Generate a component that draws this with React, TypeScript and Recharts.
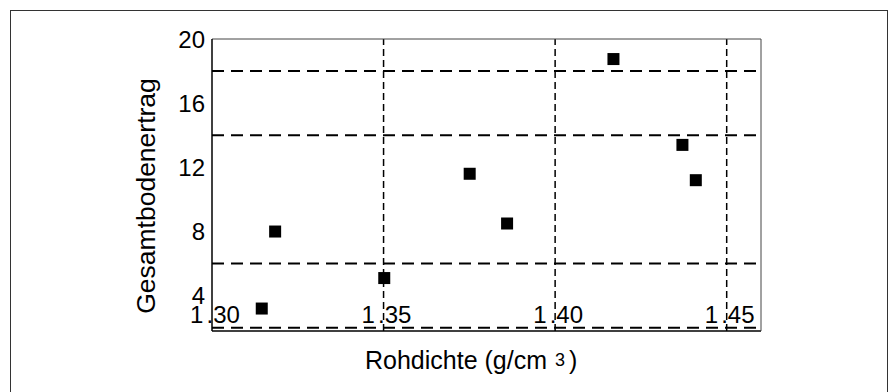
import { ReferenceLine, Scatter, ScatterChart, XAxis, YAxis } from "recharts";

// Rohdichte (g/cm³) und Gesamtbodenertrag
const rohdichte = [1.3145, 1.3184, 1.3502, 1.3751, 1.386, 1.417, 1.4371, 1.441];
const ertrag = [3.2, 8.0, 5.1, 11.6, 8.5, 18.75, 13.4, 11.2];

const xTicks = [1.3, 1.35, 1.4, 1.45];
const yTicks = [4, 8, 12, 16, 20];
const xMinorTicks = [1.31, 1.32, 1.33, 1.34, 1.35, 1.36, 1.37, 1.38, 1.39, 1.4, 1.41, 1.42, 1.43, 1.44, 1.45];
const yMinorTicks = [2, 3, 4, 5, 6, 7, 8, 9, 10, 11, 12, 13, 14, 15, 16, 17, 18, 19];
const gridX = [1.35, 1.4, 1.45];
const gridY = [2, 6, 14, 18];

const xDomain = [1.3, 1.46];
const yDomain = [1.8, 20];

const points = rohdichte.map((x, i) => ({ x, y: ertrag[i] }));

const FONT = '"Liberation Sans", Arial, sans-serif';

const Square = (props: any) => (
  <rect x={props.cx - 6} y={props.cy - 6} width={12} height={12} fill="#000" />
);

const XTick = ({ x, y, payload }: any) => {
  const [a, b] = Number(payload.value).toFixed(2).split(".");
  return (
    <text y={y - 8} fontSize={24} fontFamily={FONT} fill="#000">
      <tspan x={x - 22}>{a}</tspan>
      <tspan x={x - 5.5}>.{b}</tspan>
    </text>
  );
};

const XTitle = ({ viewBox }: any) => {
  const x = viewBox.x + 153;
  const y = viewBox.y + 38;
  return (
    <text x={x} y={y} fontSize={25} fontFamily={FONT} fill="#000">
      Rohdichte (g/cm
      <tspan dx={8} dy={-3} fontSize={18}>3</tspan>
      <tspan dx={4} dy={3}>)</tspan>
    </text>
  );
};

const YTitle = ({ viewBox }: any) => {
  const cx = viewBox.x + viewBox.width - 57.5;
  const cy = viewBox.y + viewBox.height / 2 + 11;
  return (
    <text
      x={cx}
      y={cy}
      transform={`rotate(-90 ${cx} ${cy})`}
      textAnchor="middle"
      fontSize={26.5}
      fontFamily={FONT}
      fill="#000"
    >
      Gesamtbodenertrag
    </text>
  );
};

export default function App() {
  return (
    <div style={{ position: "relative", width: 888, height: 392, overflow: "hidden", background: "#fff" }}>
      <style>{`body{margin:0}`}</style>
      <div
        style={{
          position: "absolute",
          left: 10,
          top: 10,
          width: 876,
          height: 400,
          borderTop: "1.5px solid #333",
          borderLeft: "1.5px solid #333",
          borderRight: "1.5px solid #333",
        }}
      />
      <div style={{ position: "absolute", left: 0, top: 0 }}>
        <ScatterChart width={888} height={392} margin={{ top: 39, right: 127, bottom: 0, left: 0 }}>
          <XAxis
            type="number"
            dataKey="x"
            domain={xDomain}
            allowDataOverflow
            ticks={xTicks}
            interval={0}
            height={61}
            tickSize={0}
            tickMargin={0}
            tickLine={false}
            tick={<XTick />}
            axisLine={{ stroke: "#000", strokeWidth: 1.5 }}
            label={<XTitle />}
          />
          <XAxis
            xAxisId="t"
            orientation="top"
            type="number"
            dataKey="x"
            domain={xDomain}
            allowDataOverflow
            ticks={xMinorTicks}
            interval={0}
            height={1}
            mirror
            tick={false}
            tickSize={3}
            tickLine={{ stroke: "#444" }}
            axisLine={{ stroke: "#444" }}
          />
          <YAxis
            type="number"
            dataKey="y"
            domain={yDomain}
            allowDataOverflow
            ticks={yTicks}
            interval={0}
            width={212}
            tickSize={0}
            tickMargin={7}
            tickLine={false}
            tick={{ fontSize: 24, fontFamily: FONT, fill: "#000" }}
            axisLine={{ stroke: "#000", strokeWidth: 1.5 }}
            label={<YTitle />}
          />
          <YAxis
            yAxisId="r"
            orientation="right"
            type="number"
            dataKey="y"
            domain={yDomain}
            allowDataOverflow
            ticks={yMinorTicks}
            interval={0}
            width={1}
            mirror
            tick={false}
            tickSize={3}
            tickLine={{ stroke: "#444" }}
            axisLine={{ stroke: "#444" }}
          />
          {gridX.map((v) => (
            <ReferenceLine key={`gx${v}`} x={v} stroke="#000" strokeWidth={1.5} strokeDasharray="7 4" />
          ))}
          {gridY.map((v) => (
            <ReferenceLine key={`gy${v}`} y={v} stroke="#000" strokeWidth={2} strokeDasharray="12 7" />
          ))}
          <Scatter data={points} fill="#000" shape={Square} isAnimationActive={false} />
        </ScatterChart>
      </div>
    </div>
  );
}
